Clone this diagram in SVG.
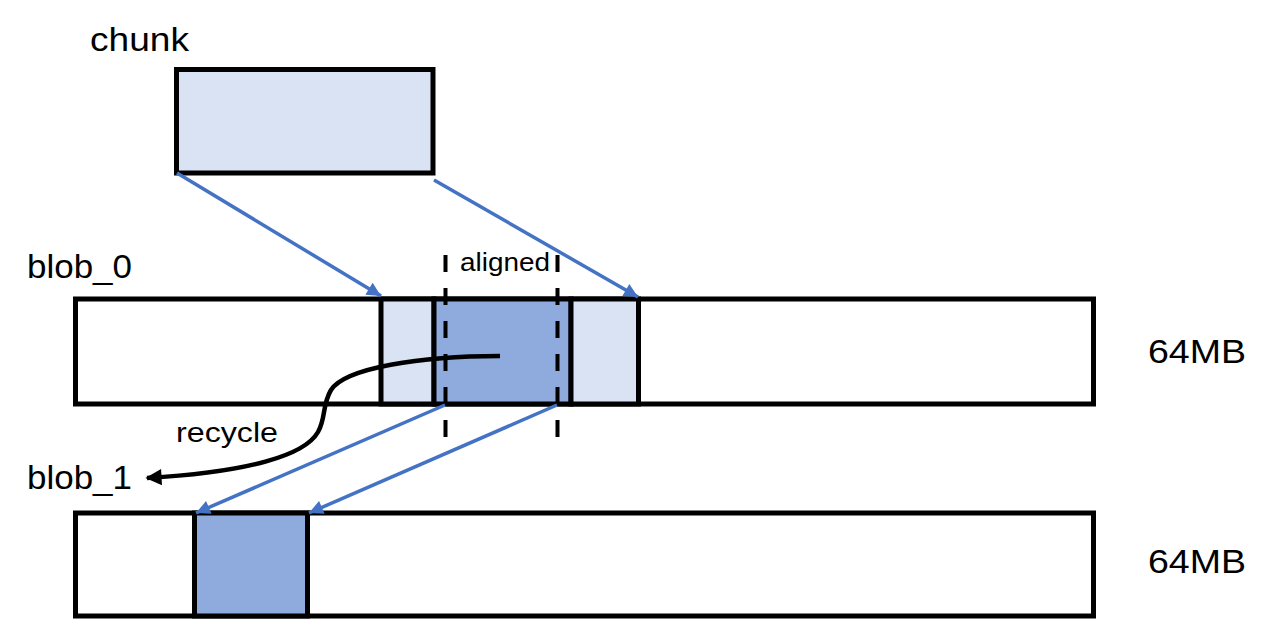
<svg xmlns="http://www.w3.org/2000/svg" width="1272" height="620" viewBox="0 0 1272 620">
<defs>
<style>
.box{stroke:#000;stroke-width:5;}
.lt{fill:#DAE3F3;}
.dk{fill:#8FAADC;}
.wh{fill:#fff;}
.lbl{font-family:"Liberation Sans",Arial,sans-serif;fill:#000;}
.blue{stroke:#4472C4;stroke-width:3.5;fill:none;marker-end:url(#ab);}
.dash{stroke:#000;stroke-width:4;stroke-dasharray:17 16;fill:none;}
</style>
<marker id="ab" viewBox="0 0 10 10" refX="10" refY="5" markerWidth="5" markerHeight="4" markerUnits="strokeWidth" orient="auto">
<path d="M0,0 L10,5 L0,10 z" fill="#4472C4"/>
</marker>
<marker id="ak" viewBox="0 0 10 10" refX="9" refY="5" markerWidth="4.5" markerHeight="3.6" markerUnits="strokeWidth" orient="auto">
<path d="M0,0 L10,5 L0,10 z" fill="#000"/>
</marker>
</defs>
<rect width="1272" height="620" fill="#fff"/>

<g id="chunk">
<rect class="box lt" x="176.5" y="69.5" width="256.5" height="103.5"/>
<text class="lbl" x="90" y="51" font-size="33" textLength="99" lengthAdjust="spacingAndGlyphs">chunk</text>
</g>

<g id="blob_0">
<rect class="box wh" x="75.5" y="299" width="1018" height="105"/>
<rect class="box lt" x="381" y="299" width="53" height="105"/>
<rect class="box dk" x="434" y="299" width="137" height="105"/>
<rect class="box lt" x="571" y="299" width="67.5" height="105"/>
<text class="lbl" x="27" y="278" font-size="33" textLength="105" lengthAdjust="spacingAndGlyphs">blob_0</text>
<text class="lbl" x="1148" y="363" font-size="33" textLength="98" lengthAdjust="spacingAndGlyphs">64MB</text>
</g>

<g id="blob_1">
<rect class="box wh" x="75.5" y="513" width="1018" height="103"/>
<rect class="box dk" x="194.5" y="513" width="113" height="103"/>
<text class="lbl" x="27" y="489" font-size="33" textLength="105" lengthAdjust="spacingAndGlyphs">blob_1</text>
<text class="lbl" x="1148" y="573" font-size="33" textLength="98" lengthAdjust="spacingAndGlyphs">64MB</text>
</g>

<g id="aligned">
<line class="dash" x1="445.5" y1="255" x2="445.5" y2="437"/>
<line class="dash" x1="557.5" y1="255" x2="557.5" y2="437"/>
<text class="lbl" x="460" y="271" font-size="25" textLength="90" lengthAdjust="spacingAndGlyphs">aligned</text>
</g>

<g id="connectors">
<line class="blue" x1="177" y1="173" x2="381" y2="296"/>
<line class="blue" x1="434" y1="180" x2="638" y2="297"/>
<line class="blue" x1="445" y1="405" x2="196" y2="513"/>
<line class="blue" x1="557" y1="405" x2="309" y2="513"/>
<path d="M500,356 C420,356 345,368 331,390 C322,405 326,418 318,432 C305,455 250,472 147,478" fill="none" stroke="#000" stroke-width="4.5" marker-end="url(#ak)"/>
<text class="lbl" x="176" y="442" font-size="28" textLength="102" lengthAdjust="spacingAndGlyphs">recycle</text>
</g>
</svg>
